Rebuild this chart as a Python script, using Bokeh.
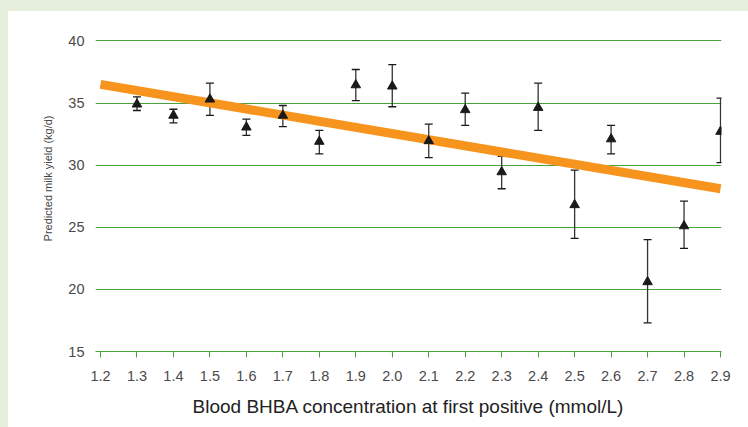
from bokeh.plotting import figure
from bokeh.layouts import column, row
from bokeh.models import Range1d, FixedTicker, Whisker, ColumnDataSource, TeeHead, Spacer, Title
from bokeh.embed import file_html
from bokeh.resources import INLINE

# --- data ---
bhba = [1.3, 1.4, 1.5, 1.6, 1.7, 1.8, 1.9, 2.0, 2.1, 2.2, 2.3, 2.4, 2.5, 2.6, 2.7, 2.8, 2.9]
milk = [34.9, 34.0, 35.3, 33.05, 34.0, 31.9, 36.45, 36.35, 31.95, 34.45, 29.45, 34.63, 26.8, 32.1, 20.6, 25.1, 32.7]
upper = [35.5, 34.5, 36.6, 33.7, 34.8, 32.8, 37.7, 38.1, 33.3, 35.8, 30.7, 36.6, 29.6, 33.2, 24.0, 27.1, 35.4]
lower = [34.4, 33.4, 34.0, 32.4, 33.1, 30.9, 35.2, 34.7, 30.6, 33.2, 28.1, 32.8, 24.1, 30.9, 17.3, 23.3, 30.2]
trend_x = [1.2, 2.9]
trend_y = [36.5, 28.1]
x_ticks = [1.2, 1.3, 1.4, 1.5, 1.6, 1.7, 1.8, 1.9, 2.0, 2.1, 2.2, 2.3, 2.4, 2.5, 2.6, 2.7, 2.8, 2.9]
x_tick_labels = ["1.2", "1.3", "1.4", "1.5", "1.6", "1.7", "1.8", "1.9", "2.0", "2.1",
                 "2.2", "2.3", "2.4", "2.5", "2.6", "2.7", "2.8", "2.9"]
y_ticks = [15, 20, 25, 30, 35, 40]
x_title = "Blood BHBA concentration at first positive (mmol/L)"
y_title = "Predicted milk yield (kg/d)"

GREEN = "#48a43a"
PANEL_BG = "#e5efdc"
FONT = "Liberation Sans"

p = figure(width=740, height=416, output_backend="svg", toolbar_location=None,
           x_range=Range1d(1.1863, 2.9027), y_range=Range1d(15, 41),
           min_border_left=87, min_border_right=27, min_border_top=17, min_border_bottom=76)
p.outline_line_color = None
p.background_fill_color = "white"
p.border_fill_color = "white"

# grid
p.xgrid.grid_line_color = None
p.ygrid.grid_line_color = GREEN
p.ygrid.grid_line_width = 1.2

# x axis
p.xaxis.ticker = FixedTicker(ticks=x_ticks)
p.xaxis.major_label_overrides = {t: l for t, l in zip(x_ticks, x_tick_labels)}
p.xaxis.axis_line_color = GREEN
p.xaxis.axis_line_width = 1.2
p.xaxis.major_tick_line_color = GREEN
p.xaxis.major_tick_in = 0
p.xaxis.major_tick_out = 6
p.xaxis.minor_tick_line_color = None
p.xaxis.major_label_text_font = FONT
p.xaxis.major_label_text_font_size = "14.5px"
p.xaxis.major_label_text_color = "#4a4a4a"
p.xaxis.major_label_standoff = 13
p.xaxis.axis_label = x_title
p.xaxis.axis_label_text_font = FONT
p.xaxis.axis_label_text_font_size = "19px"
p.xaxis.axis_label_text_font_style = "normal"
p.xaxis.axis_label_text_color = "#222222"
p.xaxis.axis_label_standoff = 12

# y axis
p.yaxis.ticker = FixedTicker(ticks=y_ticks)
p.yaxis.axis_line_color = None
p.yaxis.major_tick_line_color = None
p.yaxis.minor_tick_line_color = None
p.yaxis.major_tick_in = 0
p.yaxis.major_tick_out = 0
p.yaxis.major_label_text_font = FONT
p.yaxis.major_label_text_font_size = "14.5px"
p.yaxis.major_label_text_color = "#4a4a4a"
p.yaxis.major_label_standoff = 11

# y axis title as a left-side title, anchored from the top of the frame
p.add_layout(Title(text=y_title, align="right", offset=87, standoff=24,
                   text_font=FONT, text_font_size="11px", text_font_style="normal",
                   text_color="#444444"), "left")

# trend line
p.line(trend_x, trend_y, line_color="#f7941d", line_width=9)

# error bars
src = ColumnDataSource(dict(x=bhba, y=milk, upper=upper, lower=lower))
w = Whisker(source=src, base="x", upper="upper", lower="lower",
            line_color="#333333", line_width=1.3,
            upper_head=TeeHead(size=8, line_color="#1a1a1a", line_width=1.3),
            lower_head=TeeHead(size=8, line_color="#1a1a1a", line_width=1.3))
p.add_layout(w)

# markers
p.scatter("x", "y", source=src, marker="triangle", size=9.5,
          fill_color="#1a1a1a", line_color="#1a1a1a")

top_strip = Spacer(width=748, height=11, styles={"background-color": PANEL_BG})
left_strip = Spacer(width=8, height=416, styles={"background-color": PANEL_BG})
layout = column(top_strip, row(left_strip, p))
open("out.html", "w").write(file_html(layout, INLINE))
